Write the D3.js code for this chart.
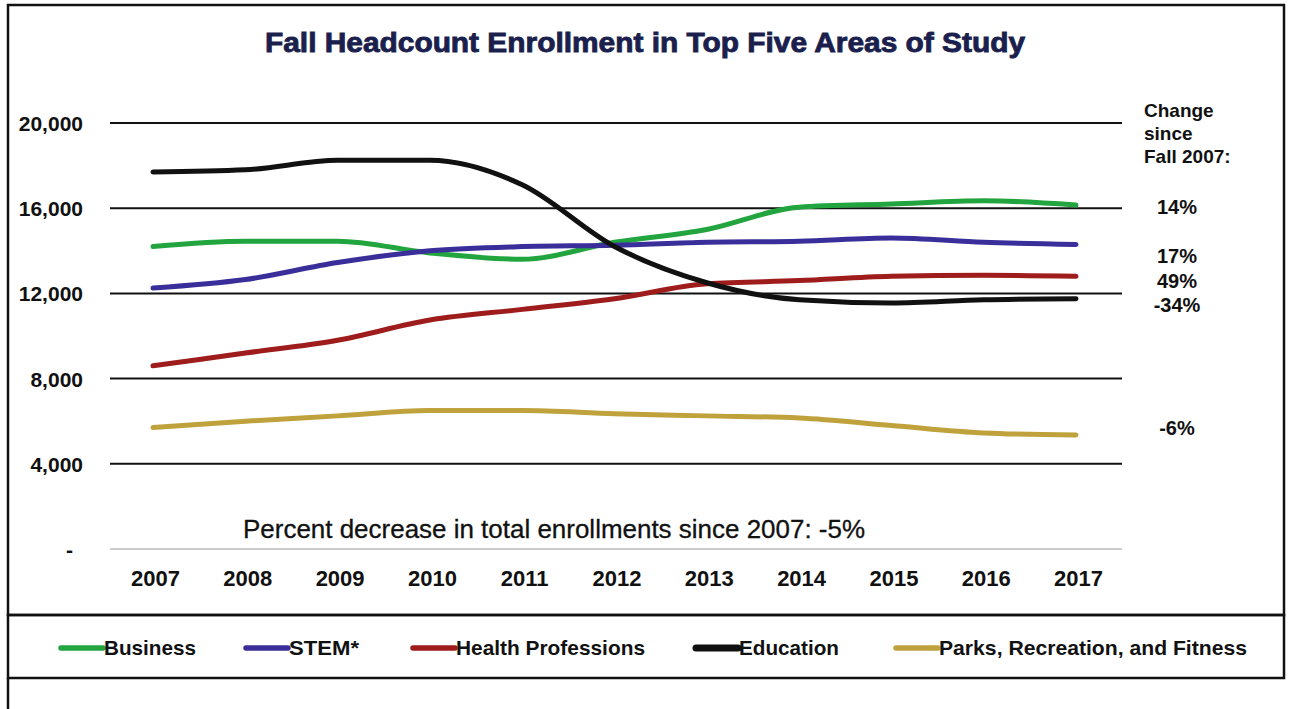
<!DOCTYPE html>
<html>
<head>
<meta charset="utf-8">
<script src="https://cdn.jsdelivr.net/npm/d3@7"></script>
<style>
  html, body { margin: 0; padding: 0; background: #fff; }
  svg { display: block; font-family: "Liberation Sans", Arial, sans-serif; }
</style>
</head>
<body>
<svg id="chart" width="1289" height="709"></svg>
<script>
// Fall headcount by area of study, 2007-2017
const years = [2007, 2008, 2009, 2010, 2011, 2012, 2013, 2014, 2015, 2016, 2017];
const business   = [14200, 14450, 14450, 13900, 13600, 14400, 15000, 16050, 16200, 16350, 16150];
const stem       = [12250, 12650, 13450, 14000, 14200, 14260, 14400, 14450, 14600, 14400, 14300];
const health     = [8600, 9200, 9800, 10750, 11250, 11750, 12450, 12600, 12800, 12850, 12800];
const education  = [17700, 17800, 18250, 18250, 17100, 14200, 12500, 11700, 11550, 11700, 11750];
const parks      = [5700, 6000, 6250, 6500, 6500, 6350, 6250, 6150, 5800, 5450, 5350];

const seriesNames  = ["Business", "STEM*", "Health Professions", "Education", "Parks, Recreation, and Fitness"];
const seriesColors = ["#22a53f", "#3a2f9a", "#9e1c1c", "#111111", "#bfa23c"];
const changeLabels = ["14%", "17%", "49%", "-34%", "-6%"];
const yTicks = [0, 4000, 8000, 12000, 16000, 20000];
const yTickLabels = ["-", "4,000", "8,000", "12,000", "16,000", "20,000"];

const titleText = "Fall Headcount Enrollment in Top Five Areas of Study";
const noteText = "Percent decrease in total enrollments since 2007: -5%";
const changeHeader = ["Change", "since", "Fall 2007:"];

const seriesValues = [business, stem, health, education, parks];

const svg = d3.select("#chart");

const x = d3.scalePoint().domain(years).range([153, 1076]);
const y = d3.scaleLinear().domain([0, 20000]).range([549, 123]);

// frame around plot and legend
const frame = svg.append("g").attr("fill", "none").attr("stroke", "#111");
frame.append("rect").attr("x", 8).attr("y", 5).attr("width", 1276).attr("height", 610).attr("stroke-width", 2.5);
frame.append("rect").attr("x", 8).attr("y", 615).attr("width", 1276).attr("height", 63).attr("stroke-width", 2.5);
frame.append("line").attr("x1", 8).attr("x2", 8).attr("y1", 678).attr("y2", 709).attr("stroke-width", 2.5);

// title
svg.append("text")
  .attr("x", 645).attr("y", 52)
  .attr("text-anchor", "middle")
  .attr("font-size", 28).attr("font-weight", "bold")
  .attr("fill", "#1b1f4d")
  .attr("textLength", 760).attr("lengthAdjust", "spacingAndGlyphs")
  .style("stroke", "#1b1f4d").style("stroke-width", 0.9)
  .text(titleText);

// horizontal gridlines
const grid = svg.append("g");
grid.selectAll("line")
  .data(yTicks)
  .join("line")
  .attr("x1", 110).attr("x2", 1122)
  .attr("y1", d => y(d)).attr("y2", d => y(d))
  .attr("stroke", d => d === 0 ? "#9a9a9a" : "#111")
  .attr("stroke-width", d => d === 0 ? 1.2 : 2);

// y axis labels
const yAxis = svg.append("g")
  .attr("transform", "translate(83,0)")
  .call(d3.axisLeft(y).tickValues(yTicks).tickSize(0).tickPadding(0)
    .tickFormat((d, i) => yTickLabels[i]));
yAxis.select(".domain").remove();
yAxis.selectAll("text")
  .attr("font-size", 21).attr("font-weight", "bold").attr("fill", "#111")
  .attr("font-family", "Liberation Sans, Arial, sans-serif")
  .attr("dy", "0.36em")
  .attr("x", (d) => d === 0 ? -10 : 0);

// x axis labels
const xAxis = svg.append("g")
  .attr("transform", "translate(0,586)")
  .call(d3.axisBottom(x).tickSize(0).tickPadding(0));
xAxis.select(".domain").remove();
xAxis.selectAll("text")
  .attr("font-size", 22).attr("font-weight", "bold").attr("fill", "#111")
  .attr("font-family", "Liberation Sans, Arial, sans-serif")
  .attr("dy", 0)
  .attr("x", 2);

// series lines
const line = d3.line()
  .x((d, i) => x(years[i]))
  .y(d => y(d))
  .curve(d3.curveMonotoneX);

svg.append("g")
  .selectAll("path")
  .data(seriesValues)
  .join("path")
  .attr("d", d => line(d))
  .attr("fill", "none")
  .attr("stroke", (d, i) => seriesColors[i])
  .attr("stroke-width", 5)
  .attr("stroke-linecap", "round")
  .attr("stroke-linejoin", "round");

// change-since-2007 header and labels
const header = svg.append("text")
  .attr("x", 1144).attr("y", 117)
  .attr("font-size", 19).attr("font-weight", "bold").attr("fill", "#111");
header.selectAll("tspan")
  .data(changeHeader)
  .join("tspan")
  .attr("x", 1144)
  .attr("dy", (d, i) => i === 0 ? 0 : 23)
  .text(d => d);

const labelY = [214, 263, 288, 312, 435];
svg.append("g")
  .selectAll("text")
  .data(changeLabels)
  .join("text")
  .attr("x", 1177)
  .attr("y", (d, i) => labelY[i])
  .attr("text-anchor", "middle")
  .attr("font-size", 20).attr("font-weight", "bold").attr("fill", "#111")
  .text(d => d);

// note on total enrollment
svg.append("text")
  .attr("x", 243).attr("y", 538)
  .attr("font-size", 25).attr("fill", "#111")
  .attr("textLength", 622).attr("lengthAdjust", "spacingAndGlyphs")
  .style("stroke", "#111").style("stroke-width", 0.3)
  .text(noteText);

// legend
const legendSwatchX = [58, 243, 410, 693, 893];
const legendTextW = [92, 70, 189, 100, 308];
const legend = svg.append("g").attr("transform", "translate(0,648)");
const items = legend.selectAll("g")
  .data(seriesNames)
  .join("g")
  .attr("transform", (d, i) => `translate(${legendSwatchX[i]},0)`);
items.append("line")
  .attr("x1", 3).attr("x2", 45)
  .attr("stroke", (d, i) => seriesColors[i])
  .attr("stroke-width", (d, i) => i === 3 ? 7 : 5.5)
  .attr("stroke-linecap", "round");
items.append("text")
  .attr("x", 46).attr("y", 7)
  .attr("font-size", 21).attr("font-weight", "bold").attr("fill", "#111")
  .attr("textLength", (d, i) => legendTextW[i]).attr("lengthAdjust", "spacingAndGlyphs")
  .text(d => d);
</script>
</body>
</html>
